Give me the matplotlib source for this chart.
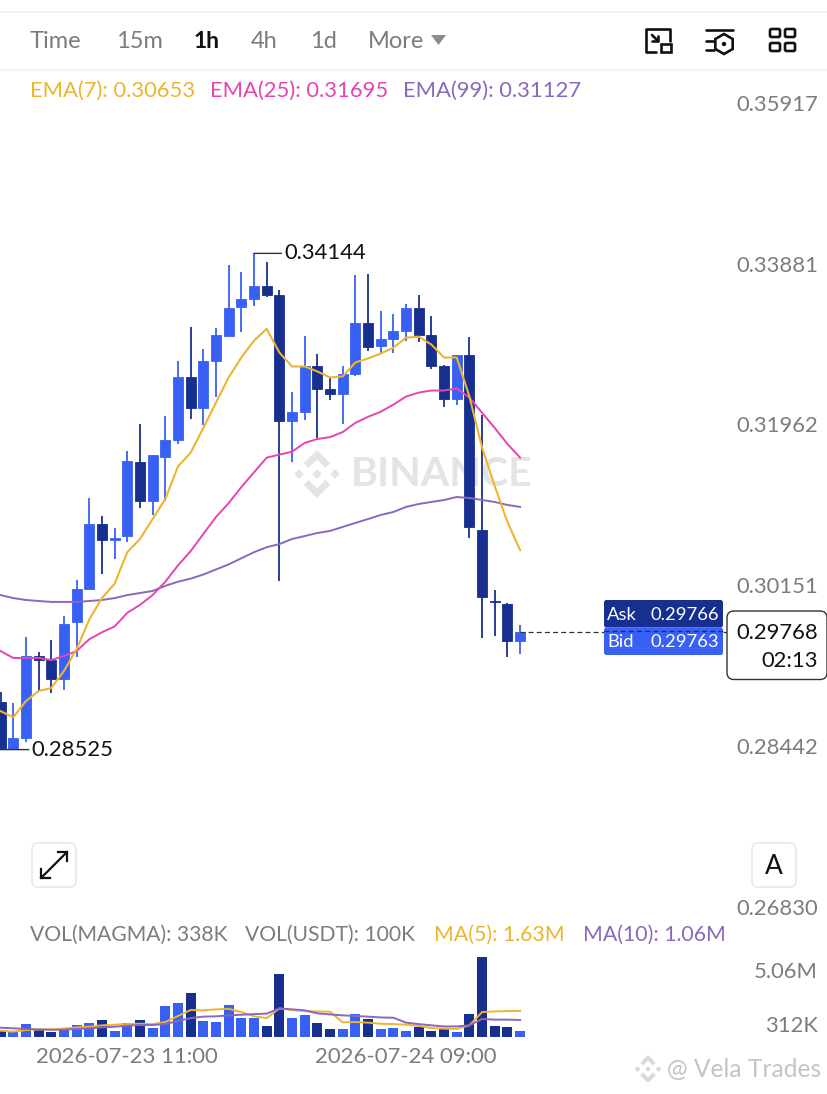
import matplotlib
matplotlib.use('Agg')
import matplotlib.pyplot as plt
import matplotlib.patches as mpatches
import numpy as np

W, H = 828, 1094
UP = '#3860F4'
DOWN = '#17308F'
C_EMA7 = '#EDB52E'
C_EMA25 = '#E644AE'
C_EMA99 = '#8A68BE'
GRAY = '#7C7C7C'

plt.rcParams['font.family'] = ['Lato', 'DejaVu Sans']

opens = [.29021, .28532, .28649, .29509, .29466, .29265, .29870, .30235, .30955, .30775, .30820, .31653, .31214, .31720,
         .31911, .32643, .32288, .32833, .33141, .33484, .33579, .33745, .33638, .32134, .32240, .32773, .32501, .32453,
         .32679, .33295, .33022, .33105, .33200, .33472, .33153, .32773, .32394, .32904, .30888, .30103, .30071, .29668]
highs = [.29127, .29010, .29711, .29551, .29679, .29944, .30337, .31248, .31045, .30910, .31788, .32098, .31743, .32193,
         .32833, .33247, .32987, .33235, .34001, .33913, .34144, .34039, .33697, .32477, .33141, .32927, .32643, .32773,
         .33875, .33887, .33437, .33401, .33520, .33638, .33378, .32785, .32915, .33129, .32205, .30224, .30082, .29838]
lows = [.28525, .28525, .28607, .29137, .29116, .29148, .29498, .30235, .30404, .30562, .30753, .31135, .31056, .31214,
        .31866, .32157, .32086, .32418, .33129, .33188, .33496, .33603, .30325, .31653, .32146, .31934, .32382, .32098,
        .32655, .32963, .32939, .32939, .33081, .33070, .32738, .32300, .32323, .30798, .29700, .29721, .29498, .29530]
closes = [.28532, .28649, .29509, .29466, .29265, .29849, .30235, .30955, .30775, .30798, .31664, .31214, .31743, .31911,
          .32643, .32288, .32833, .33153, .33472, .33579, .33745, .33638, .32134, .32240, .32773, .32501, .32453, .32679,
          .33295, .33010, .33105, .33200, .33472, .33153, .32773, .32394, .32915, .30922, .30146, .30093, .29668, .29768]

ema7 = [.28925, .28861, .29031, .29137, .29169, .29349, .29583, .29902, .30135, .30292, .30640, .30787, .31011, .31237,
        .31608, .31765, .32051, .32347, .32643, .32880, .33081, .33224, .32939, .32773, .32773, .32714, .32643, .32655,
        .32821, .32868, .32927, .32998, .33117, .33129, .33034, .32880, .32880, .32418, .31822, .31383, .30978, .30663]
ema25 = [.29562, .29488, .29488, .29488, .29466, .29509, .29562, .29689, .29764, .29827, .29975, .30061, .30168, .30314,
         .30494, .30652, .30843, .31034, .31190, .31372, .31540, .31708, .31743, .31776, .31878, .31923, .31945, .32003,
         .32110, .32181, .32240, .32323, .32418, .32465, .32489, .32489, .32513, .32406, .32228, .32051, .31866, .31708]
ema99 = [.30168, .30135, .30114, .30103, .30093, .30093, .30093, .30103, .30114, .30135, .30168, .30190, .30213, .30269,
         .30314, .30348, .30393, .30449, .30505, .30573, .30640, .30696, .30730, .30787, .30820, .30854, .30877, .30922,
         .30967, .31011, .31056, .31090, .31147, .31180, .31203, .31225, .31259, .31248, .31225, .31203, .31169, .31147]

# volumes in millions
volumes = [.42, .32, .80, .42, .32, .57, .72, .84, 1.08, .36, .84, 1.03, .53, 1.92, 2.11, 2.79, .99, .93, 1.98, 1.16, 1.16,
           .65, 3.95, 1.16, 1.35, .87, .46, .51, 1.41, 1.10, .51, .55, .34, .63, .38, .46, .32, 1.41, 5.06, .70, .61, .338]
vol_ma5 = [.38, .32, .42, .46, .46, .51, .59, .63, .72, .76, .80, .82, .80, .93, 1.31, 1.69, 1.67, 1.73, 1.77, 1.56, 1.29,
           1.18, 1.79, 1.69, 1.62, 1.60, 1.58, .91, .93, .89, .82, .80, .76, .68, .55, .51, .49, .72, 1.56, 1.60, 1.62, 1.63]
vol_ma10 = [.57, .53, .49, .46, .44, .44, .49, .53, .59, .63, .70, .74, .74, .80, .99, 1.18, 1.27, 1.29, 1.35, 1.39, 1.43,
            1.46, 1.79, 1.73, 1.67, 1.48, 1.41, 1.35, 1.31, 1.27, 1.22, 1.20, .89, .80, .72, .65, .65, .72, 1.12, 1.08, 1.08, 1.06]

price_ticks = [0.35917, 0.33881, 0.31962, 0.30151, 0.28442, 0.26830]
date_ticks = {10: '2026-07-23 11:00', 32: '2026-07-24 09:00'}
last_price = 0.29768
ask = 0.29766
bid = 0.29763


def add_px_axes(fig, top, bottom):
    ax = fig.add_axes([0, 1 - bottom / H, 1, (bottom - top) / H])
    ax.set_axis_off()
    ax.patch.set_alpha(0)
    return ax


def draw_logo(ax, cx, cy, s, color, alpha=1.0):
    # binance mark: middle diamond, four side diamonds and chevrons
    def diamond(x, y, r):
        return mpatches.Polygon([(x - r, y), (x, y - r), (x + r, y), (x, y + r)], color=color, lw=0, alpha=alpha)
    ax.add_patch(diamond(cx, cy, s * 0.2))
    ax.add_patch(diamond(cx - s * 0.75, cy, s * 0.2))
    ax.add_patch(diamond(cx + s * 0.75, cy, s * 0.2))
    for sign in (-1, 1):
        pts = [(cx - s * 0.55, cy + sign * s * 0.45), (cx - s * 0.35, cy + sign * s * 0.25), (cx, cy + sign * s * 0.6),
               (cx + s * 0.35, cy + sign * s * 0.25), (cx + s * 0.55, cy + sign * s * 0.45), (cx, cy + sign * s)]
        ax.add_patch(mpatches.Polygon(pts, color=color, lw=0, alpha=alpha))


fig = plt.figure(figsize=(W / 100, H / 100), dpi=100, facecolor='white')

# chrome in pixel coordinates, underneath the chart
bg = fig.add_axes([0, 0, 1, 1])
bg.set_xlim(0, W)
bg.set_ylim(H, 0)
bg.set_axis_off()
bg.axhline(11.5, color='#EEEEEE', lw=1.2)
bg.axhline(70, color='#F2F2F2', lw=1.2)

for label, x in zip(['Time', '15m', '4h', '1d', 'More'], [30, 116, 251, 310, 368]):
    bg.text(x, 42, label, fontsize=17, color=GRAY, va='center')
bg.text(194, 42, '1h', fontsize=16.5, color='#111111', va='center', fontweight='bold')
bg.add_patch(mpatches.Polygon([(431, 35), (446, 35), (438.5, 45)], color='#8C8C8C', lw=0))

# toolbar icons
k = dict(color='#111111', lw=1.9, solid_capstyle='round')
bg.plot([656, 646, 646, 670, 670], [52, 52, 29, 29, 41], **k)
bg.plot([652, 658], [35, 41], **k)
bg.plot([658, 658, 652], [36, 41, 41], **k)
bg.add_patch(mpatches.Rectangle((661, 44), 10, 8, fill=False, ec='#111111', lw=1.9))
bg.plot([706, 733], [30, 30], **k)
bg.plot([706, 714], [41, 41], **k)
bg.plot([706, 714], [50, 50], **k)
bg.add_patch(mpatches.RegularPolygon((724, 44), 6, radius=10, fill=False, ec='#111111', lw=1.9))
bg.add_patch(mpatches.Circle((724, 44), 2.2, color='#111111', lw=0))
for x in (770, 785):
    for y in (29, 43):
        bg.add_patch(mpatches.FancyBboxPatch((x, y), 10, 8, boxstyle='round,pad=0,rounding_size=1.5', fill=False,
                                             ec='#111111', lw=1.9))

bg.text(30, 90.5, 'EMA(7): 0.30653', fontsize=15.8, color=C_EMA7, va='center')
bg.text(210, 90.5, 'EMA(25): 0.31695', fontsize=15.8, color=C_EMA25, va='center')
bg.text(403, 90.5, 'EMA(99): 0.31127', fontsize=15.8, color=C_EMA99, va='center')

# watermarks
draw_logo(bg, 317, 474, 24, '#E4E4E4')
bg.text(351, 475, 'BINANCE', fontsize=29.6, color='#E4E4E4', fontweight='bold', va='center')
draw_logo(bg, 648, 1069, 14, '#D8D8D8')
bg.text(667, 1070, '@ Vela Trades', fontsize=17.7, color='#C4C4C4', va='center')

# price panel, log scale
ax = add_px_axes(fig, 70, 930)
ax.set_xlim(-0.047, 65.3)
ax.set_yscale('log')
ax.set_ylim(0.26720, 0.36490)

idx = np.arange(len(opens))
o, h, l, c = map(np.array, (opens, highs, lows, closes))
cols = [UP if c[i] >= o[i] else DOWN for i in idx]
ax.vlines(idx, l, h, colors=cols, lw=1.3, zorder=2)
ax.bar(idx, np.abs(c - o), bottom=np.minimum(o, c), width=0.8, color=cols, edgecolor=cols, lw=0.6, zorder=3)

ax.plot(idx, ema99, color=C_EMA99, lw=1.4, zorder=4)
ax.plot(idx, ema25, color=C_EMA25, lw=1.4, zorder=4)
ax.plot(idx, ema7, color=C_EMA7, lw=1.5, zorder=5)

# tick labels sit above their price level
for p in price_ticks:
    ax.annotate(f'{p:.5f}', xy=(1, p), xycoords=('axes fraction', 'data'), xytext=(-7, 6.6), textcoords='offset points',
                ha='right', va='center', fontsize=15.8, color=GRAY)

# high / low markers
i_hi = int(np.argmax(h))
i_lo = int(np.argmin(l))
ax.annotate('0.34144', xy=(i_hi, h[i_hi]), xytext=(i_hi + 2.38, h[i_hi]), va='center', fontsize=15.8, color='#111111',
            arrowprops=dict(arrowstyle='-', color='#333333', lw=1, shrinkA=0, shrinkB=0))
ax.annotate('0.28525', xy=(-0.05, l[i_lo]), xytext=(2.45, l[i_lo]), va='center', fontsize=15.8, color='#111111',
            arrowprops=dict(arrowstyle='-', color='#333333', lw=1, shrinkA=0, shrinkB=0))

# last price line
ax.plot([idx[-1], 57.3], [last_price, last_price], color='#333333', lw=0.9, ls=(0, (4, 2.5)), zorder=6)

# overlay boxes
fg = fig.add_axes([0, 0, 1, 1])
fg.set_xlim(0, W)
fg.set_ylim(H, 0)
fg.set_axis_off()
fg.patch.set_alpha(0)
fg.add_patch(mpatches.FancyBboxPatch((604, 600), 119, 27.5, boxstyle='round,pad=0,rounding_size=2.5', color=DOWN, lw=0))
fg.add_patch(mpatches.FancyBboxPatch((604, 627.5), 119, 27.5, boxstyle='round,pad=0,rounding_size=2.5', color=UP, lw=0))
fg.plot([604, 723], [631, 631], color='#222E66', lw=0.9, ls=(0, (4, 2.5)))
fg.text(607, 614.5, 'Ask', fontsize=13.2, color='white', va='center')
fg.text(719.5, 614.5, f'{ask:.5f}', fontsize=13.2, color='white', va='center', ha='right')
fg.text(607, 642, 'Bid', fontsize=13.2, color='white', va='center')
fg.text(719.5, 642, f'{bid:.5f}', fontsize=13.2, color='white', va='center', ha='right')
fg.add_patch(mpatches.FancyBboxPatch((727, 611), 100, 68.5, boxstyle='round,pad=0,rounding_size=7', fc='white',
                                     ec='#333333', lw=1))
fg.text(818, 633, f'{last_price:.5f}', fontsize=15.8, color='#111111', ha='right', va='center')
fg.text(818, 661, '02:13', fontsize=15.8, color='#111111', ha='right', va='center')

# chart buttons
for x0 in (32, 752):
    fg.add_patch(mpatches.FancyBboxPatch((x0, 843), 44, 44, boxstyle='round,pad=0,rounding_size=6', fc='white',
                                         ec='#E8E8E8', lw=1.2))
fg.plot([41, 67], [878, 852], color='#111111', lw=1.6)
fg.plot([41, 41, 50], [869, 878, 878], color='#111111', lw=1.6)
fg.plot([58, 67, 67], [852, 852, 861], color='#111111', lw=1.6)
fg.text(774, 866, 'A', fontsize=19, color='#111111', ha='center', va='center')

fg.text(30, 934.5, 'VOL(MAGMA): 338K', fontsize=15.2, color=GRAY, va='center')
fg.text(245, 934.5, 'VOL(USDT): 100K', fontsize=15.2, color=GRAY, va='center')
fg.text(434, 934.5, 'MA(5): 1.63M', fontsize=15.3, color=C_EMA7, va='center')
fg.text(583, 934.5, 'MA(10): 1.06M', fontsize=15.3, color=C_EMA99, va='center')
fg.text(818, 972.5, '5.06M', fontsize=15.8, color=GRAY, va='center', ha='right')
fg.text(818, 1025.5, '312K', fontsize=15.8, color=GRAY, va='center', ha='right')

# volume panel
vx = add_px_axes(fig, 950, 1036.7)
vx.set_xlim(-0.047, 65.3)
vx.set_ylim(0, 5.49)
vx.bar(idx, volumes, width=0.8, color=cols, lw=0)
vx.plot(idx, vol_ma5, color=C_EMA7, lw=1.4)
vx.plot(idx, vol_ma10, color=C_EMA99, lw=1.4)
for i, label in date_ticks.items():
    vx.annotate(label, xy=(i, 0), xytext=(0, -14.5), textcoords='offset points', ha='center', va='center', fontsize=15.9,
                color=GRAY, annotation_clip=False)

fig.savefig('out.png', dpi=100, facecolor='white')
